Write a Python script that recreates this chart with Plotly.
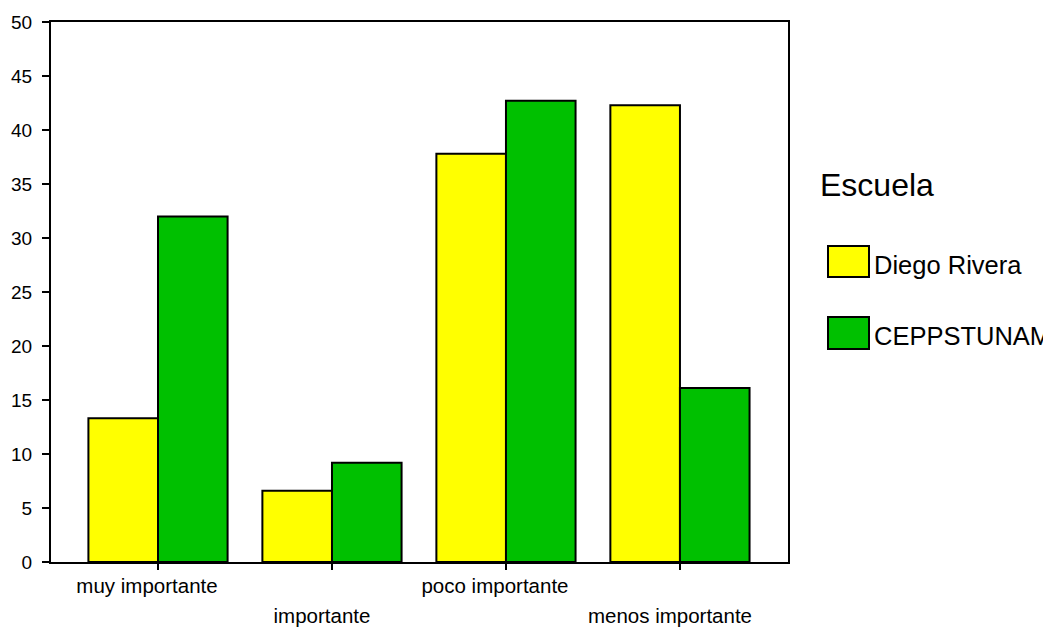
import plotly.graph_objects as go

categories = ["muy importante", "importante", "poco importante", "menos importante"]
series_names = ["Diego Rivera", "CEPPSTUNAM"]
diego_rivera = [13.3, 6.6, 37.8, 42.3]
ceppstunam = [32.0, 9.2, 42.7, 16.1]
y_ticks = [0, 5, 10, 15, 20, 25, 30, 35, 40, 45, 50]
legend_title = "Escuela"
colors = ["#FFFF00", "#00C000"]

FONT = "Liberation Sans, Arial, sans-serif"

fig = go.Figure()
for name, vals, col in zip(series_names, [diego_rivera, ceppstunam], colors):
    fig.add_trace(go.Bar(x=categories, y=vals, name=name, marker=dict(color=col, line=dict(color="black", width=2))))

xr = [-0.615, 3.621]
row1 = [i for i in range(len(categories)) if i % 2 == 0]
row2 = [i for i in range(len(categories)) if i % 2 == 1]

common = dict(showgrid=False, zeroline=False, automargin=False)
fig.update_layout(
    template="none",
    width=1043, height=620,
    margin=dict(l=43, r=263, t=14, b=66, autoexpand=False),
    paper_bgcolor="white", plot_bgcolor="white",
    barmode="group", bargap=0.2, bargroupgap=0,
    showlegend=False,
    font=dict(family=FONT, color="black", size=20),
    # first row of category labels (axis carrying the bars)
    xaxis=dict(type="category", range=xr, tickmode="array", tickvals=[categories[i] for i in row1],
               ticktext=[categories[i] for i in row1], ticks="", showline=True, linecolor="black",
               linewidth=2, mirror=True, ticklabelstandoff=4, ticklabelshift=-11,
               tickfont=dict(size=20.5), **common),
    # second (staggered) row of category labels
    xaxis2=dict(type="linear", overlaying="x", side="bottom", anchor="y", range=xr, tickmode="array",
                tickvals=row2, ticktext=[categories[i] for i in row2], ticks="", showline=False,
                ticklabelstandoff=39, ticklabelshift=-10, tickfont=dict(size=20.5), **common),
    # tick marks at every category
    xaxis3=dict(type="linear", overlaying="x", side="bottom", anchor="y", range=xr, tickmode="array",
                tickvals=list(range(len(categories))), ticktext=[""] * len(categories), ticks="outside",
                ticklen=7, tickwidth=2, tickcolor="black", showline=False, **common),
    yaxis=dict(range=[0, 50], tickmode="array", tickvals=y_ticks, ticks="outside", ticklen=7,
               tickwidth=2, tickcolor="black", showline=True, linecolor="black", linewidth=2,
               mirror=True, ticklabelstandoff=6, tickfont=dict(size=19), **common),
)
# invisible helper traces so the overlay axes render
for ax in ["x2", "x3"]:
    fig.add_trace(go.Scatter(x=[0], y=[0], xaxis=ax, mode="markers", marker=dict(opacity=0),
                             hoverinfo="skip", showlegend=False))

# custom legend
fig.add_annotation(text=legend_title, xref="paper", yref="paper", x=(818 - 51) / 737, y=1 - (185 - 22) / 540,
                   xanchor="left", yanchor="middle", showarrow=False, font=dict(size=32, family=FONT))
sw_y = [(246, 277), (317, 349)]
for name, col, (y0, y1) in zip(series_names, colors, sw_y):
    fig.add_shape(type="rect", xref="paper", yref="paper", x0=(828 - 51) / 737, x1=(869 - 51) / 737,
                  y0=1 - (y1 - 22) / 540, y1=1 - (y0 - 22) / 540, fillcolor=col,
                  line=dict(color="black", width=2))
    fig.add_annotation(text=name, xref="paper", yref="paper", x=(872 - 51) / 737,
                       y=1 - ((y0 + y1) / 2 + 3 - 22) / 540, xanchor="left", yanchor="middle",
                       showarrow=False, font=dict(size=25.5, family=FONT))

fig.write_html("out.html")
